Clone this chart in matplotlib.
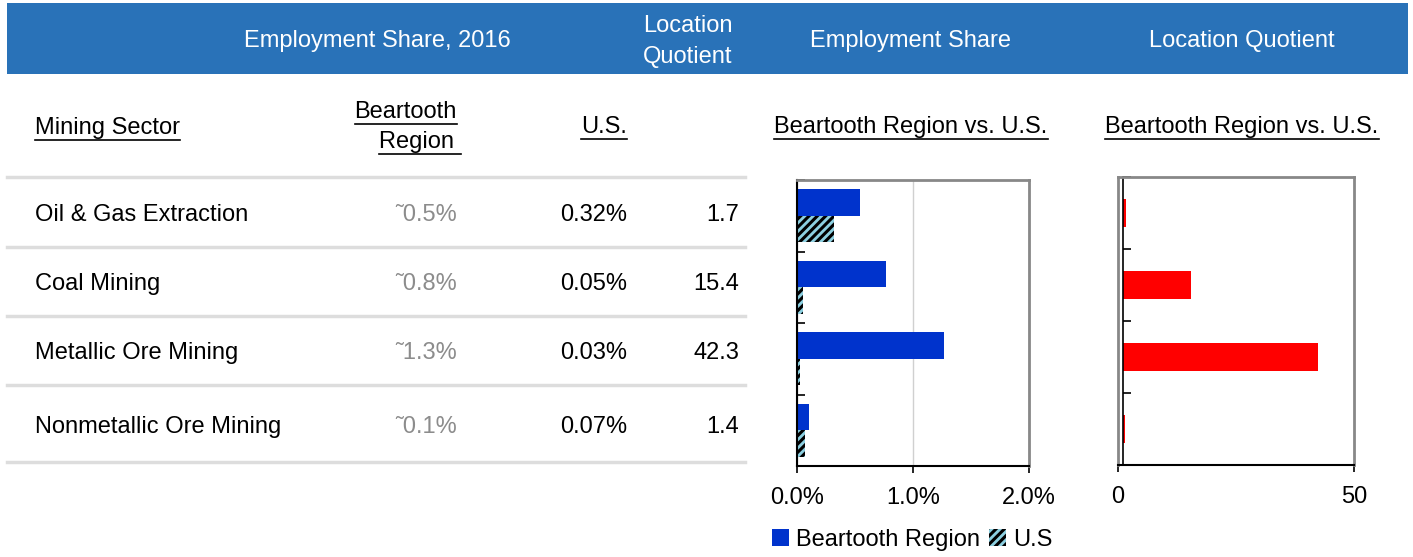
import numpy as np
import matplotlib.pyplot as plt
from matplotlib.patches import Patch, Rectangle
from matplotlib.lines import Line2D

plt.rcParams['font.family'] = ['Liberation Sans', 'DejaVu Sans']
plt.rcParams['hatch.linewidth'] = 2.2

sectors = ['Oil & Gas Extraction', 'Coal Mining', 'Metallic Ore Mining',
           'Nonmetallic Ore Mining']
region_share = [0.54, 0.77, 1.27, 0.10]      # percent
us_share = [0.32, 0.05, 0.03, 0.07]
lq = [1.7, 15.4, 42.3, 1.4]
region_labels = ['\u02dc0.5%', '\u02dc0.8%', '\u02dc1.3%', '\u02dc0.1%']
us_labels = ['0.32%', '0.05%', '0.03%', '0.07%']
lq_labels = ['1.7', '15.4', '42.3', '1.4']

W, H = 1413, 557
fig = plt.figure(figsize=(W / 100, H / 100), dpi=100)


def fx(x):
    return x / W


def fy(y):
    return 1 - y / H


FS = 17
renderer = fig.canvas.get_renderer()


def txt(x, y, s, ha='left', color='black', underline=False):
    t = fig.text(fx(x), fy(y), s, ha=ha, va='baseline', fontsize=FS, color=color)
    if underline:
        bb = t.get_window_extent(renderer=renderer)
        uy = fy(y + 6)
        fig.add_artist(Line2D([bb.x0 / W, bb.x1 / W], [uy, uy], color='black',
                              lw=1.2, transform=fig.transFigure))
    return t


# header band
fig.add_artist(Rectangle((fx(7), fy(74)), fx(1408) - fx(7), fy(3) - fy(74),
                         transform=fig.transFigure, color='#2972B8', lw=0))
for x, y, s in [(377, 47.5, 'Employment Share, 2016'), (688, 32, 'Location'),
                (688, 63, 'Quotient'), (911, 47.5, 'Employment Share'),
                (1242, 47.5, 'Location Quotient')]:
    txt(x, y, s, ha='center', color='white')

# table header
txt(35, 134, 'Mining Sector', underline=True)
txt(457, 118, 'Beartooth', ha='right', underline=True)
txt(461, 148, 'Region ', ha='right', underline=True)
txt(627, 133, 'U.S.', ha='right', underline=True)
txt(911, 133, 'Beartooth Region vs. U.S.', ha='center', underline=True)
txt(1242, 133, 'Beartooth Region vs. U.S.', ha='center', underline=True)

# table rows
for ly in [177, 247, 316, 385, 462]:
    fig.add_artist(Line2D([fx(7), fx(745)], [fy(ly), fy(ly)], color='#DDDDDD',
                          lw=2.5, transform=fig.transFigure))
row_base = [221, 290, 359, 433]
for i in range(len(sectors)):
    txt(35, row_base[i], sectors[i])
    txt(457, row_base[i], region_labels[i], ha='right', color='#8C8C8C')
    txt(627, row_base[i], us_labels[i], ha='right')
    txt(739, row_base[i], lq_labels[i], ha='right')

y = np.arange(len(sectors))

# employment share chart
ax1 = fig.add_axes([fx(797), fy(466), fx(1029) - fx(797), fy(180) - fy(466)])
bh = 0.373
ax1.barh(y - bh / 2, region_share, height=bh, color='#0033CC', lw=0)
ax1.barh(y + bh / 2, us_share, height=bh, color='#8CCFE0', edgecolor='black',
         hatch='////', lw=0)
ax1.set_xlim(0, 2)
ax1.set_ylim(3.5, -0.5)
ax1.set_xticks([0, 1, 2])
ax1.set_xticklabels(['0.0%', '1.0%', '2.0%'], fontsize=FS)
ax1.set_yticks([])
ax1.set_yticks([-0.5, 0.5, 1.5, 2.5, 3.5], minor=True)
ax1.tick_params(axis='y', which='minor', direction='in', length=6, width=1.2)
ax1.tick_params(axis='x', direction='out', length=5, width=1.2, pad=10)
ax1.xaxis.grid(True, color='#D0D0D0', lw=1)
ax1.set_axisbelow(True)
for s in ['top', 'right']:
    ax1.spines[s].set_color('#888888')
    ax1.spines[s].set_linewidth(2)
for s in ['left', 'bottom']:
    ax1.spines[s].set_color('black')
    ax1.spines[s].set_linewidth(1.5)

# location quotient chart
ax2 = fig.add_axes([fx(1118), fy(465), fx(1354) - fx(1118), fy(177) - fy(465)])
ax2.barh(y, np.array(lq) - 1, left=1, height=0.39, color='#FF0000', lw=0)
ax2.set_xlim(0, 50)
ax2.set_ylim(3.5, -0.5)
ax2.set_xticks([0, 50])
ax2.set_xticklabels(['0', '50'], fontsize=FS)
ax2.set_yticks([])
ax2.set_yticks([-0.5, 0.5, 1.5, 2.5, 3.5], minor=True)
ax2.tick_params(axis='y', which='minor', direction='in', length=6, width=1.2)
ax2.tick_params(axis='x', direction='out', length=5, width=1.2, pad=10)
for s in ['top', 'right']:
    ax2.spines[s].set_color('#888888')
    ax2.spines[s].set_linewidth(2)
ax2.spines['bottom'].set_color('black')
ax2.spines['bottom'].set_linewidth(1.5)
ax2.spines['left'].set_position(('data', 1))
ax2.spines['left'].set_color('black')
ax2.spines['left'].set_linewidth(1.2)
ax2.axvline(0, color='#888888', lw=2, clip_on=False)

# legend
handles = [Patch(facecolor='#0033CC', lw=0),
           Patch(facecolor='#8CCFE0', edgecolor='black', hatch='////', lw=0)]
fig.legend(handles, ['Beartooth Region', 'U.S'], loc='center',
           bbox_to_anchor=(fx(912), fy(540)), ncol=2, frameon=False,
           fontsize=FS, handlelength=0.7, handleheight=0.7, handletextpad=0.3,
           columnspacing=0.4, borderpad=0)

fig.savefig('out.png', dpi=100)
